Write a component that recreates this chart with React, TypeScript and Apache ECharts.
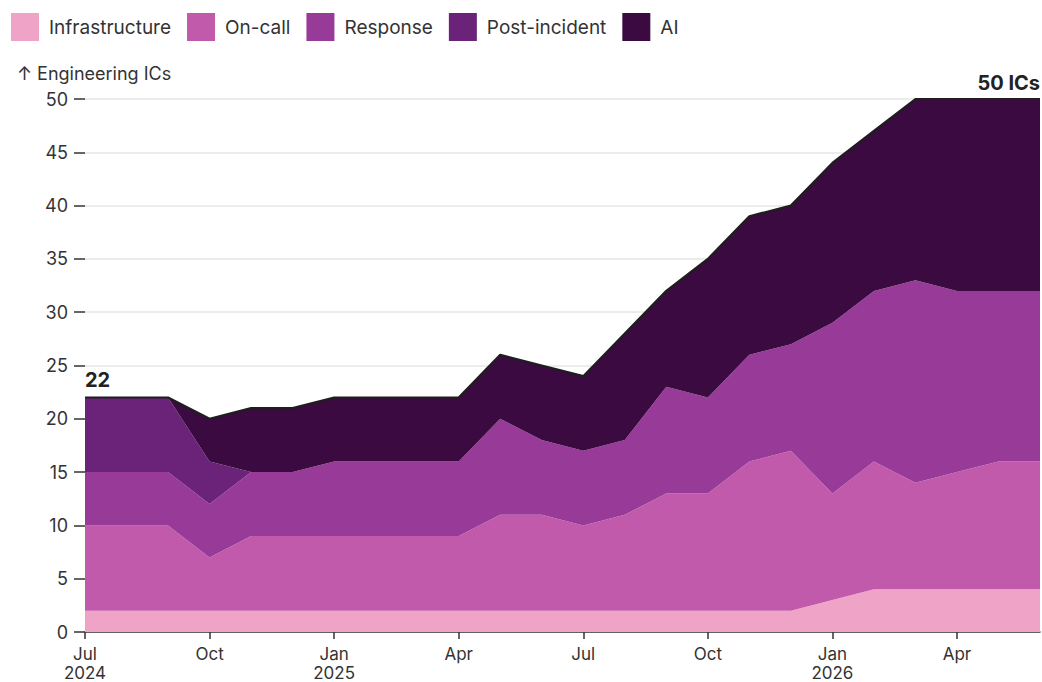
import React, { useEffect, useRef } from "react";
import * as echarts from "echarts";

const months = [
  "2024-07", "2024-08", "2024-09", "2024-10", "2024-11", "2024-12",
  "2025-01", "2025-02", "2025-03", "2025-04", "2025-05", "2025-06",
  "2025-07", "2025-08", "2025-09", "2025-10", "2025-11", "2025-12",
  "2026-01", "2026-02", "2026-03", "2026-04", "2026-05", "2026-06",
];
const infrastructure = [2, 2, 2, 2, 2, 2, 2, 2, 2, 2, 2, 2, 2, 2, 2, 2, 2, 2, 3, 4, 4, 4, 4, 4];
const onCall = [8, 8, 8, 5, 7, 7, 7, 7, 7, 7, 9, 9, 8, 9, 11, 11, 14, 15, 10, 12, 10, 11, 12, 12];
const response = [5, 5, 5, 5, 6, 6, 7, 7, 7, 7, 9, 7, 7, 7, 10, 9, 10, 10, 16, 16, 19, 17, 16, 16];
const postIncident = [7, 7, 7, 4, 0, 0, 0, 0, 0, 0, 0, 0, 0, 0, 0, 0, 0, 0, 0, 0, 0, 0, 0, 0];
const ai = [0, 0, 0, 4, 6, 6, 6, 6, 6, 6, 6, 7, 7, 10, 9, 13, 13, 13, 15, 15, 17, 18, 18, 18];

const seriesNames = ["Infrastructure", "On-call", "Response", "Post-incident", "AI"];
const colors = ["#efa3c7", "#c25aab", "#983b98", "#6b2279", "#3a0a40"];
const monthAbbr = ["Jan", "Feb", "Mar", "Apr", "May", "Jun", "Jul", "Aug", "Sep", "Oct", "Nov", "Dec"];

const FONT = "Inter, 'Noto Sans', sans-serif";
const FS = 18;

export default function App() {
  const ref = useRef<HTMLDivElement>(null);
  useEffect(() => {
    if (!ref.current) return;
    const chart = echarts.init(ref.current, undefined, { renderer: "svg" });
    const seriesData = [infrastructure, onCall, response, postIncident, ai];
    const totals = months.map((_, i) => seriesData.reduce((s, arr) => s + arr[i], 0));
    const last = months.length - 1;

    const labelBase = {
      show: true,
      position: "top",
      fontFamily: FONT,
      fontSize: 20,
      fontWeight: "bold",
      color: "#222",
    };

    const aiData = ai.map((v, i) => {
      if (i === 0) {
        return {
          value: v,
          label: { ...labelBase, align: "left", distance: 7, formatter: () => String(totals[0]) },
        };
      }
      if (i === last) {
        return {
          value: v,
          label: { ...labelBase, align: "right", distance: 6, formatter: () => totals[last] + " ICs" },
        };
      }
      return v;
    });

    const series = seriesNames.map((name, idx) => {
      const isTop = idx === 4;
      return {
        name,
        type: "line",
        stack: "total",
        data: isTop ? aiData : seriesData[idx],
        symbol: isTop ? "circle" : "none",
        symbolSize: 0,
        showSymbol: isTop,
        lineStyle: isTop ? { color: "#1e1e1e", width: 2.2 } : { width: 0 },
        areaStyle: { color: colors[idx], opacity: 1 },
        itemStyle: { color: colors[idx] },
        emphasis: { disabled: true },
        label: { show: false },
        z: 2,
      };
    });

    chart.setOption({
      animation: false,
      textStyle: { fontFamily: FONT },
      legend: {
        left: 6,
        top: 8,
        icon: "rect",
        itemWidth: 28,
        itemHeight: 28,
        itemGap: 16,
        data: seriesNames,
        textStyle: { fontSize: 19, color: "#333", fontFamily: FONT, padding: [0, 0, 0, 5] },
        selectedMode: false,
      },
      grid: { left: 85, right: 2, top: 99, bottom: 50, outerBoundsMode: "none", containLabel: false },
      xAxis: {
        type: "category",
        data: months,
        boundaryGap: false,
        axisLine: { show: true, lineStyle: { color: "#333", width: 1.5 } },
        axisTick: { show: true, interval: 2, length: 7, lineStyle: { color: "#333", width: 1.5 } },
        axisLabel: {
          interval: 2,
          fontSize: 17,
          color: "#333",
          lineHeight: 19,
          margin: 12,
          fontFamily: FONT,
          formatter: (val: string, idx: number) => {
            const [y, m] = val.split("-");
            const mi = parseInt(m, 10) - 1;
            return monthAbbr[mi] + (mi === 0 || idx === 0 ? "\n" + y : "");
          },
        },
        splitLine: { show: false },
      },
      yAxis: {
        type: "value",
        min: 0,
        max: 50,
        interval: 5,
        axisLine: { show: false },
        axisTick: { show: true, length: 11, lineStyle: { color: "#333", width: 1.5 } },
        axisLabel: { fontSize: FS, color: "#333", margin: 17, fontFamily: FONT },
        splitLine: { show: true, lineStyle: { color: "#e6e6e6", width: 1.5 } },
      },
      graphic: [
        {
          type: "text",
          left: 17,
          top: 64,
          style: { text: "↑ Engineering ICs", fontSize: FS, fill: "#333", fontFamily: FONT },
        },
      ],
      series,
    });
    return () => chart.dispose();
  }, []);
  return (
    <div
      ref={ref}
      style={{ position: "fixed", left: 0, top: 0, width: 1042, height: 682, background: "#fff" }}
    />
  );
}
